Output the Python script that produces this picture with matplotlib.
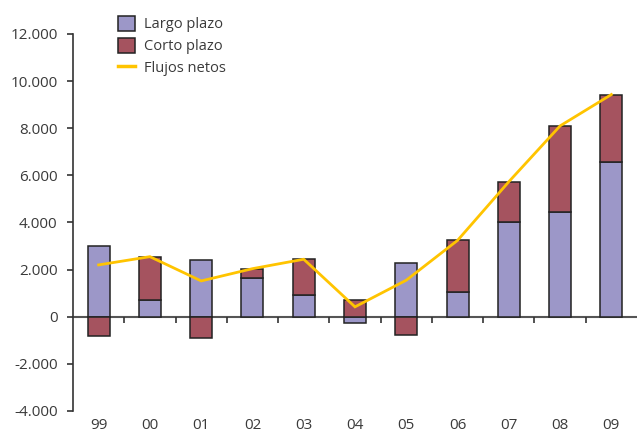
import matplotlib.pyplot as plt
import matplotlib.transforms as mtransforms
from matplotlib.patches import Patch
from matplotlib.lines import Line2D
import numpy as np

plt.rcParams['font.family'] = ['Open Sans', 'DejaVu Sans']

# datos (millones)
years = ['99', '00', '01', '02', '03', '04', '05', '06', '07', '08', '09']
largo = [3000, 700, 2400, 1640, 930, -280, 2300, 1030, 4030, 4450, 6550]
corto = [-800, 1850, -890, 400, 1510, 700, -760, 2210, 1700, 3650, 2880]
netos = [2200, 2550, 1520, 2040, 2440, 420, 1550, 3240, 5730, 8100, 9430]

c_largo = '#9C97C8'
c_corto = '#A5535F'
c_neto = '#FFC400'
txt = '#3a3a3a'

fig = plt.figure(figsize=(6.37, 4.34), dpi=100)
ax = fig.add_axes([0.1146, 0.053, 0.8854, 0.8687])

x = np.arange(len(years))
largo = np.array(largo)
corto = np.array(corto)
bot_corto = np.where(corto >= 0, np.maximum(largo, 0), np.minimum(largo, 0))

w = 0.43
ax.bar(x, largo, width=w, color=c_largo, edgecolor='#222222', linewidth=1.1, zorder=2)
ax.bar(x, corto, width=w, bottom=bot_corto, color=c_corto, edgecolor='#222222', linewidth=1.1, zorder=2)
ax.plot(x, netos, color=c_neto, linewidth=2.0, zorder=3, solid_joinstyle='miter')

ax.set_xlim(-0.5, len(years) - 0.5)
ax.set_ylim(-4000, 12000)
ax.set_yticks(np.arange(-4000, 12001, 2000))
ax.set_yticklabels([f'{v:,}'.replace(',', '.') for v in range(-4000, 12001, 2000)])

for s in ['top', 'right']:
    ax.spines[s].set_visible(False)
ax.spines['bottom'].set_position(('data', 0))
ax.spines['bottom'].set_color('#555555')
ax.spines['bottom'].set_linewidth(1.5)
ax.spines['left'].set_color('#333333')
ax.spines['left'].set_linewidth(1.2)
ax.spines['bottom'].set_zorder(1)

ax.set_xticks(np.arange(0.5, len(years) - 1, 1))
ax.set_xticklabels([])
ax.tick_params(axis='x', length=4, width=1.2, color='#333333', direction='out')
ax.tick_params(axis='y', length=4, width=1.2, color='#333333', labelsize=11, labelcolor=txt, pad=7)

trans = mtransforms.blended_transform_factory(ax.transData, ax.transAxes)
for i, lab in enumerate(years):
    ax.text(i, -0.038, lab, transform=trans, ha='center', va='center', fontsize=11, color=txt)

handles = [
    Patch(facecolor=c_largo, edgecolor='#222222', linewidth=1.1),
    Patch(facecolor=c_corto, edgecolor='#222222', linewidth=1.1),
    Line2D([0], [0], color=c_neto, linewidth=2.5),
]
leg = fig.legend(handles, ['Largo plazo', 'Corto plazo', 'Flujos netos'],
                 loc='upper left', bbox_to_anchor=(112 / 637, 1 - 10 / 434),
                 frameon=False, fontsize=10.5, handlelength=1.15, handleheight=1.2,
                 handletextpad=0.65, labelspacing=0.38, borderaxespad=0)
for t in leg.get_texts():
    t.set_color(txt)

fig.savefig('out.png', dpi=100)
